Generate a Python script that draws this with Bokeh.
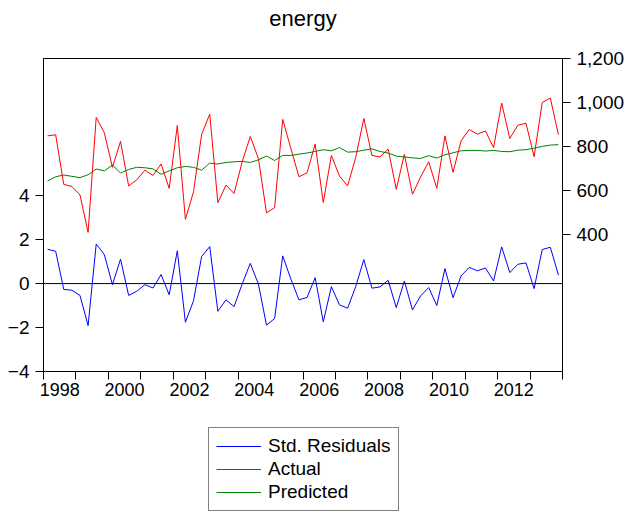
from bokeh.plotting import figure
from bokeh.layouts import column
from bokeh.models import (Range1d, LinearAxis, FixedTicker, CustomJSTickFormatter,
                          NumeralTickFormatter, Span, Legend, LegendItem, ColumnDataSource, Title)
from bokeh.embed import file_html
from bokeh.resources import INLINE

# ---------------- data (quarterly, 1998Q1 - 2013Q4) ----------------
years = list(range(1998, 2014))
quarter_numbers = [1, 2, 3, 4]
periods = [(y, q) for y in years for q in quarter_numbers]

std_residuals = [1.56, 1.47, -0.27, -0.30, -0.54, -1.91, 1.80, 1.32, -0.05, 1.11,
                 -0.54, -0.35, -0.05, -0.20, 0.41, -0.51, 1.49, -1.76, -0.78, 1.23,
                 1.68, -1.26, -0.74, -1.05, -0.02, 0.92, -0.02, -1.89, -1.59, 1.26,
                 0.21, -0.74, -0.63, 0.27, -1.74, -0.14, -0.97, -1.12, -0.14, 1.09,
                 -0.21, -0.15, 0.15, -1.09, 0.12, -1.20, -0.56, -0.18, -1.00, 0.68,
                 -0.64, 0.35, 0.74, 0.58, 0.71, 0.12, 1.67, 0.50, 0.88, 0.94,
                 -0.23, 1.55, 1.65, 0.39]

actual = [848, 853, 627, 618, 579, 409, 932, 862, 705, 823,
          620, 648, 692, 668, 720, 609, 895, 468, 594, 855,
          947, 544, 624, 586, 730, 845, 745, 498, 521, 923,
          791, 662, 680, 811, 545, 759, 665, 620, 750, 927,
          759, 752, 788, 605, 764, 582, 661, 730, 609, 848,
          682, 826, 877, 856, 870, 795, 997, 836, 897, 905,
          753, 1000, 1020, 853]

predicted = [642, 662, 670, 664, 658, 671, 697, 689, 715, 679,
             695, 705, 703, 698, 673, 689, 703, 709, 705, 692,
             724, 720, 727, 730, 732, 727, 739, 756, 736, 759,
             759, 765, 770, 777, 785, 780, 795, 774, 776, 783,
             789, 777, 770, 756, 752, 748, 745, 758, 747, 762,
             771, 780, 782, 782, 779, 782, 777, 776, 783, 785,
             792, 800, 806, 808]

left_ticks = [-4, -2, 0, 2, 4]
right_ticks = [400, 600, 800, 1000, 1200]
labelled_years = list(range(1998, 2014, 2))
series_names = ["Std. Residuals", "Actual", "Predicted"]
series_fields = ["res", "act", "pred"]
series_colors = ["#0000FF", "#FF0000", "#008000"]
chart_title = "energy"

# x position of each quarter: middle of the quarter
t = [y + (q - 0.5) / 4 for (y, q) in periods]
src = ColumnDataSource(dict(t=t, res=std_residuals, act=actual, pred=predicted))

FONT = "Liberation Sans"

p = figure(width=630, height=408, output_backend="svg", toolbar_location=None,
           x_range=Range1d(1998, 2014), y_range=Range1d(-4, 10.24),
           min_border_left=43, min_border_right=68, min_border_top=58, min_border_bottom=37)
p.extra_y_ranges = {"right": Range1d(-224, 1200)}

# title: empty built-in title, a small spacer, then the real title
p.title.text = ""
spacer = Title(text=" ", text_font_size="1px", standoff=22, text_color="white")
p.add_layout(spacer, "above")
title = Title(text=chart_title, align="center", text_font=FONT, text_font_size="22px",
              text_font_style="normal", text_color="black", standoff=6)
p.add_layout(title, "above")

p.grid.visible = False
p.outline_line_color = "black"
p.outline_line_width = 1
p.background_fill_color = "white"
p.border_fill_color = "white"

# bottom axis: year-boundary ticks (minor), labels centered on even years
xa = p.xaxis[0]
xa.ticker = FixedTicker(ticks=[y + 0.5 for y in labelled_years],
                        minor_ticks=[y for y in years] + [years[-1] + 1])
xa.formatter = CustomJSTickFormatter(code="return Math.floor(tick).toFixed(0)")
xa.major_tick_out = 0
xa.major_tick_in = 0
xa.minor_tick_out = 8
xa.minor_tick_in = 0
xa.minor_tick_line_color = "black"
xa.axis_line_color = "black"
xa.major_label_text_font = FONT
xa.major_label_text_font_size = "18px"
xa.major_label_text_color = "black"
xa.major_label_standoff = 3

ya = p.yaxis[0]
ya.ticker = FixedTicker(ticks=left_ticks, minor_ticks=[])
ya.major_tick_out = 8
ya.major_tick_in = 0
ya.minor_tick_out = 0
ya.minor_tick_in = 0
ya.major_tick_line_color = "black"
ya.axis_line_color = "black"
ya.major_label_text_font = FONT
ya.major_label_text_font_size = "19px"
ya.major_label_text_color = "black"
ya.major_label_standoff = 6

ra = LinearAxis(y_range_name="right")
ra.ticker = FixedTicker(ticks=right_ticks, minor_ticks=[])
ra.formatter = NumeralTickFormatter(format="0,0")
ra.major_tick_out = 8
ra.major_tick_in = 0
ra.minor_tick_out = 0
ra.minor_tick_in = 0
ra.major_tick_line_color = "black"
ra.axis_line_color = "black"
ra.major_label_text_font = FONT
ra.major_label_text_font_size = "19px"
ra.major_label_text_color = "black"
ra.major_label_standoff = 6
p.add_layout(ra, "right")

p.add_layout(Span(location=0, dimension="width", line_color="black", line_width=1))

p.line("t", "res", source=src, line_color=series_colors[0], line_width=1)
p.line("t", "act", source=src, line_color=series_colors[1], line_width=1, y_range_name="right")
p.line("t", "pred", source=src, line_color=series_colors[2], line_width=1, y_range_name="right")

# ---------------- legend strip below the chart ----------------
# the same series are drawn here outside the visible range, only to feed the legend
lg = figure(width=630, height=104, output_backend="svg", toolbar_location=None,
            x_axis_type=None, y_axis_type=None, x_range=Range1d(0, 1), y_range=Range1d(0, 1),
            min_border=0, min_border_left=0, min_border_right=0, min_border_top=0, min_border_bottom=0)
lg.outline_line_color = None
lg.background_fill_color = "white"
lg.border_fill_color = "white"
lg.title.text = ""

items = []
for name, field, col in zip(series_names, series_fields, series_colors):
    r = lg.line("t", field, source=src, line_color=col, line_width=1)
    items.append(LegendItem(label=name, renderers=[r]))

legend = Legend(items=items, location=(165, 1))
legend.margin = 0
legend.padding = 7
legend.spacing = 1
legend.glyph_width = 45
legend.glyph_height = 20
legend.label_height = 20
legend.label_standoff = 7
legend.label_text_font = FONT
legend.label_text_font_size = "19px"
legend.label_text_color = "black"
legend.border_line_color = "black"
legend.border_line_width = 1
legend.background_fill_color = "white"
legend.background_fill_alpha = 1
lg.add_layout(legend)

layout = column(p, lg, spacing=0)
open("out.html", "w").write(file_html(layout, INLINE))
